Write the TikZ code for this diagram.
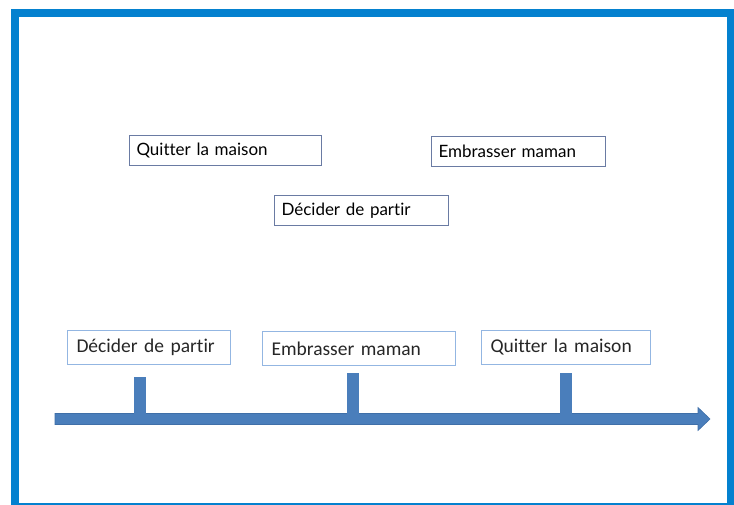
\documentclass[tikz,border=0pt]{standalone}
\usepackage{fontspec}
\setmainfont{Carlito}[Ligatures={NoCommon}]
\newfontfamily\gillfont{Lato}[Ligatures={NoCommon}]
\usetikzlibrary{positioning}

\definecolor{frameBlue}{HTML}{0481CF}
\definecolor{axisBlue}{HTML}{4A7EBB}
\definecolor{axisEdge}{HTML}{3F6FA8}
\definecolor{cardEdge}{HTML}{6A7BA3}
\definecolor{labelEdge}{HTML}{93B6E2}
\definecolor{inkGray}{HTML}{262626}

\tikzset{
  card/.style={draw=cardEdge, line width=1pt, anchor=north west,
    text width=#1, inner xsep=7pt, inner ysep=0pt, minimum height=30pt,
    align=left, font=\gillfont\fontsize{17}{19}\selectfont, text=black},
  label/.style={draw=labelEdge, line width=1pt, anchor=north west,
    text width=#1, inner xsep=9pt, inner ysep=0pt, minimum height=34pt,
    align=left, font=\fontsize{19.5}{21}\selectfont, text=inkGray},
  tick/.style={fill=axisBlue}
}

\begin{document}
\begin{tikzpicture}[x=1pt, y=-1pt]
\useasboundingbox (0,0) rectangle (734,505);
\draw[frameBlue, line width=8pt] (15,13) rectangle (731,507);

% cards to sort
\node[card=178pt] (quitUp) at (129,135) {Quitter la maison};
\node[card=160pt] (kissUp) at (431,136) {Embrasser maman};
\node[card=160pt] (decideUp) at (274,195) {Décider de partir};

% the time line
\coordinate (axisStart) at (55,419);
\coordinate (axisEnd) at (710,419);
\filldraw[fill=axisBlue, draw=axisEdge, line width=0.6pt]
  ([yshift=5.5pt]axisStart) -- (698,413.5) -- (698,407.5) -- (axisEnd)
  -- (698,430.5) -- (698,424.5) -- ([yshift=-5.5pt]axisStart) -- cycle;
\foreach \tx/\ty in {140/377, 353/373, 565.5/373}
  \fill[tick] (\tx-6,\ty) rectangle (\tx+6,414);

% labels on the time line
\node[label=145pt] (decideLow) at (67,330) {Décider de partir};
\node[label=175pt] (kissLow) at (262,331) {Embrasser maman};
\node[label=151pt] (quitLow) at (481,330) {Quitter la maison};
\end{tikzpicture}
\end{document}
